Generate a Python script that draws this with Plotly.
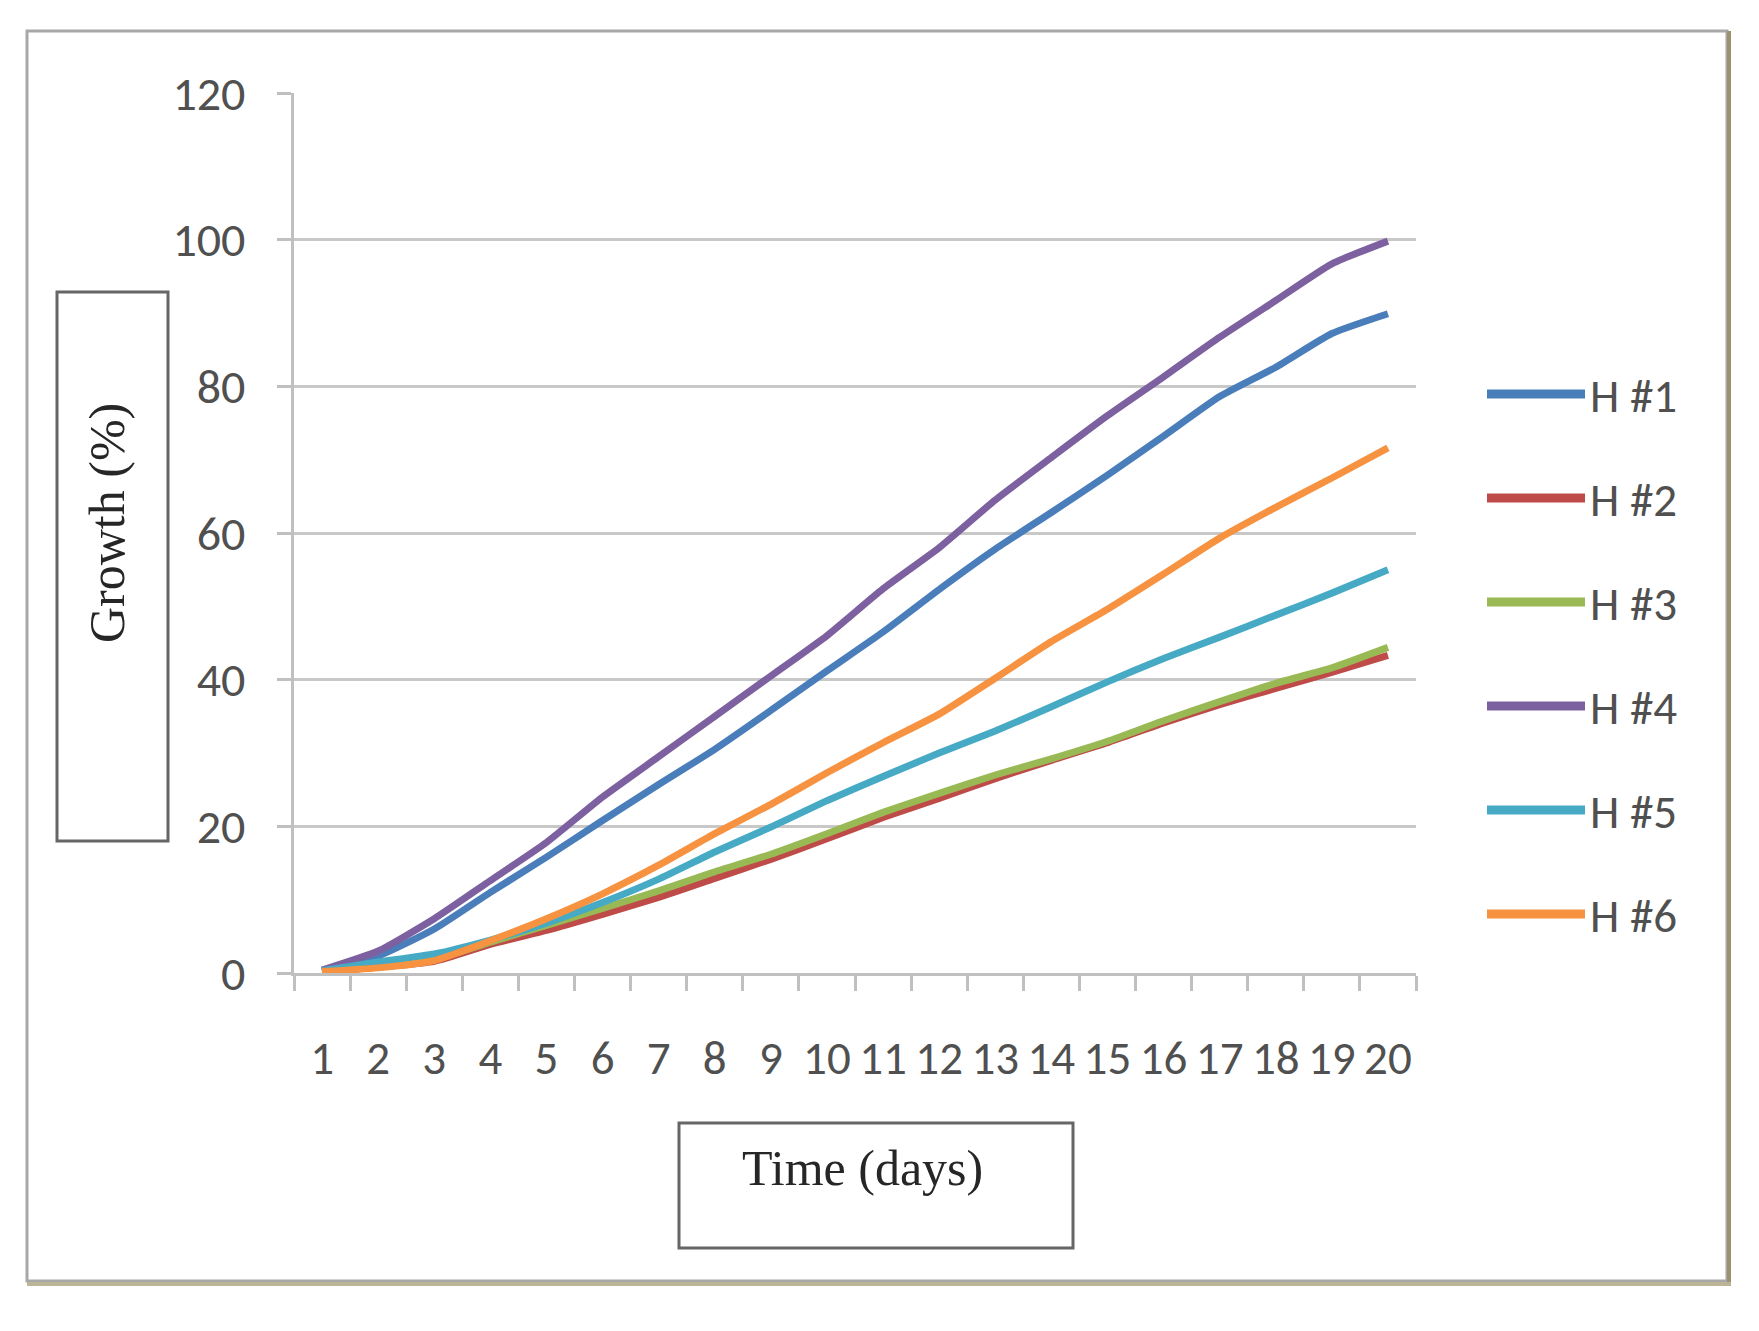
import plotly.graph_objects as go

days = [str(d) for d in range(1, 21)]
series_names = ["H #1", "H #2", "H #3", "H #4", "H #5", "H #6"]
h1 = [0.3, 2.3, 6.0, 11.0, 15.8, 20.8, 25.7, 30.5, 35.8, 41.2, 46.5, 52.3, 57.8, 62.8, 67.9, 73.2, 78.6, 82.6, 87.2, 89.9]
h2 = [0.1, 0.8, 1.6, 3.9, 5.8, 8.0, 10.3, 12.9, 15.5, 18.3, 21.2, 23.8, 26.5, 29.0, 31.4, 34.1, 36.6, 38.8, 41.0, 43.3]
h3 = [0.2, 1.0, 1.8, 4.2, 6.5, 8.8, 11.2, 13.8, 16.2, 19.0, 21.9, 24.5, 27.0, 29.2, 31.6, 34.4, 37.0, 39.5, 41.6, 44.4]
h4 = [0.4, 3.0, 7.4, 12.6, 17.8, 24.0, 29.5, 35.0, 40.5, 46.0, 52.4, 58.0, 64.5, 70.3, 76.0, 81.3, 86.7, 91.7, 96.7, 99.8]
h5 = [0.3, 1.5, 2.6, 4.5, 6.8, 9.6, 12.8, 16.5, 19.9, 23.5, 26.8, 30.0, 33.0, 36.3, 39.7, 42.9, 45.8, 48.8, 51.8, 55.0]
h6 = [0.2, 0.7, 1.7, 4.4, 7.4, 10.8, 14.7, 19.0, 23.0, 27.3, 31.4, 35.3, 40.2, 45.2, 49.6, 54.4, 59.3, 63.5, 67.5, 71.6]
series_values = [h1, h2, h3, h4, h5, h6]
colors = ["#4A7EBB", "#BE4B48", "#98B954", "#7D60A0", "#46AAC5", "#F69240"]
y_ticks = [0, 20, 40, 60, 80, 100, 120]

OFF = 8  # page body margin
W, H = 1759 - OFF, 1331 - OFF
L, R, T, B = 294 - OFF, 1416 - OFF, 93 - OFF, 973 - OFF  # plot area in figure pixels


def px(x):
    return (x - OFF - L) / (R - L)


def py(y):
    return (B - (y - OFF)) / (B - T)


SANS = "Carlito, Liberation Sans Narrow, DejaVu Sans Condensed, Liberation Sans, sans-serif"
SERIF = "Liberation Serif, Times New Roman, serif"

fig = go.Figure()
for name, vals, col in zip(series_names, series_values, colors):
    fig.add_trace(go.Scatter(x=days, y=vals, name=name, mode="lines",
                             line=dict(color=col, width=7, shape="spline", smoothing=0.5),
                             showlegend=False))

shapes = []
annotations = []
# outer frame
shapes.append(dict(type="rect", xref="paper", yref="paper", x0=px(27), x1=px(1727), y0=py(31), y1=py(1281),
                   line=dict(color="#a8a8a8", width=3), layer="below"))
shapes.append(dict(type="line", xref="paper", yref="paper", x0=px(1729), x1=px(1729), y0=py(31), y1=py(1284),
                   line=dict(color="#9c9270", width=4)))
shapes.append(dict(type="line", xref="paper", yref="paper", x0=px(27), x1=px(1731), y0=py(1284), y1=py(1284),
                   line=dict(color="#bcb496", width=4)))
# axis title boxes
shapes.append(dict(type="rect", xref="paper", yref="paper", x0=px(57), x1=px(168), y0=py(292), y1=py(841),
                   line=dict(color="#666666", width=3)))
shapes.append(dict(type="rect", xref="paper", yref="paper", x0=px(679), x1=px(1073), y0=py(1123), y1=py(1248),
                   line=dict(color="#666666", width=3)))
annotations.append(dict(text="Growth (%)", xref="paper", yref="paper", x=px(107), y=py(523), textangle=-90,
                        showarrow=False, font=dict(family=SERIF, size=50, color="#262626"),
                        xanchor="center", yanchor="middle"))
annotations.append(dict(text="Time (days)", xref="paper", yref="paper", x=px(862), y=py(1168),
                        showarrow=False, font=dict(family=SERIF, size=50, color="#262626"),
                        xanchor="center", yanchor="middle"))
# manual legend
for i, (name, col) in enumerate(zip(series_names, colors)):
    yy = 394 + 104 * i
    shapes.append(dict(type="line", xref="paper", yref="paper", x0=px(1487), x1=px(1585), y0=py(yy), y1=py(yy),
                       line=dict(color=col, width=9)))
    annotations.append(dict(text=name, xref="paper", yref="paper", x=px(1588), y=py(yy + 2), showarrow=False,
                            xanchor="left", yanchor="middle",
                            font=dict(family=SANS, size=47, color="#505050")))

fig.update_layout(
    width=W, height=H,
    margin=dict(l=L, r=W - R, t=T, b=H - B, pad=0),
    paper_bgcolor="white", plot_bgcolor="white",
    shapes=shapes, annotations=annotations,
    xaxis=dict(type="category", categoryorder="array", categoryarray=days,
               range=[-0.5, len(days) - 0.5], tickmode="linear", tick0=0, dtick=1, tickangle=0,
               tickson="boundaries", ticks="outside", ticklen=15, tickwidth=3,
               tickcolor="#c0c0c0", showgrid=False, showline=True, linecolor="#c0c0c0", linewidth=3,
               tickfont=dict(family=SANS, size=47, color="#505050"), ticklabelstandoff=42,
               zeroline=False, fixedrange=True),
    yaxis=dict(range=[0, 120], tickvals=y_ticks, ticks="outside", ticklen=14, tickwidth=3,
               tickcolor="#c0c0c0", showgrid=True, gridcolor="#c8c8c8", gridwidth=3,
               showline=True, linecolor="#c0c0c0", linewidth=3, zeroline=False,
               tickfont=dict(family=SANS, size=48, color="#505050"), ticklabelstandoff=22),
    showlegend=False,
)

fig.write_html("out.html")
